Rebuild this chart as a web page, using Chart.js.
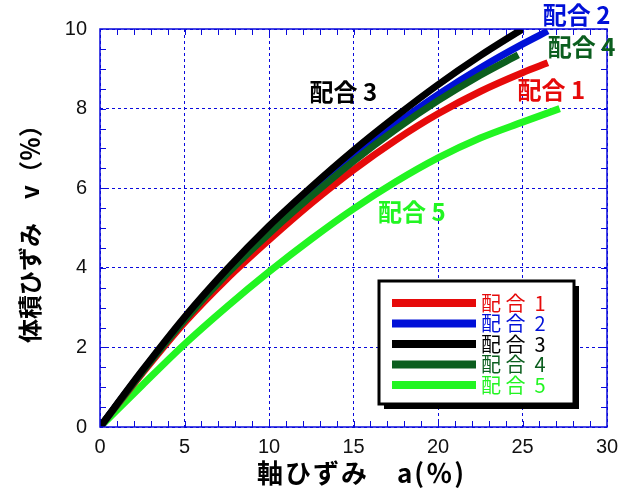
<!DOCTYPE html>
<html>
<head>
<meta charset="utf-8">
<script src="https://cdn.jsdelivr.net/npm/chart.js@4.4.1/dist/chart.umd.min.js"></script>
<style>
  html, body { margin: 0; padding: 0; background: #fff; }
  canvas { display: block; }
</style>
</head>
<body>
<canvas id="strain-chart" width="635" height="491"></canvas>
<script>
// axial strain a(%) vs volumetric strain v(%), five mixes
const legendLabels = ['配 合  1', '配 合  2', '配 合  3', '配 合  4', '配 合  5'];
const curveLabels = ['配合 1', '配合 2', '配合 3', '配合 4', '配合 5'];
const mixColors = ['#e60a0a', '#0010d8', '#000000', '#0b5e1e', '#22f522'];
const xTitle = '軸ひずみ　a(％)';
const yTitle = '体積ひずみ　v（％）';

const axial1 = [0, 2.5, 5, 7.5, 10, 12.5, 15, 17.5, 20, 22.5, 25, 26.5];
const vol1 = [0, 1.35, 2.62, 3.72, 4.7, 5.62, 6.46, 7.21, 7.87, 8.43, 8.9, 9.15];

const axial2 = [0, 2.5, 5, 7.5, 10, 12.5, 15, 17.5, 20, 22.5, 25, 26.5];
const vol2 = [0, 1.4, 2.72, 3.9, 4.95, 5.9, 6.78, 7.6, 8.35, 9.02, 9.62, 9.95];

const axial3 = [0, 2.5, 5, 7.5, 10, 12.5, 15, 17.5, 20, 22.5, 25];
const vol3 = [0, 1.42, 2.76, 3.96, 5.05, 6.03, 6.95, 7.8, 8.6, 9.33, 10.0];

const axial4 = [0, 2.5, 5, 7.5, 10, 12.5, 15, 17.5, 20, 22.5, 24.75];
const vol4 = [0, 1.38, 2.68, 3.84, 4.86, 5.8, 6.68, 7.48, 8.2, 8.84, 9.35];

const axial5 = [0, 2.5, 5, 7.5, 10, 12.5, 15, 17.5, 20, 22.5, 25, 27.2];
const vol5 = [0, 1.05, 2.08, 3.02, 3.9, 4.72, 5.48, 6.16, 6.76, 7.26, 7.66, 8.0];

const xTickValues = [0, 5, 10, 15, 20, 25, 30];
const yTickValues = [0, 2, 4, 6, 8, 10];

const series = [[axial1, vol1], [axial2, vol2], [axial3, vol3], [axial4, vol4], [axial5, vol5]];
// black on top, bright green underneath
const drawOrder = [3, 2, 0, 1, 4];
// where the bold curve names sit, in data units (left edge, middle)
const labelSpots = [[24.7, 8.47], [26.2, 10.35], [12.4, 8.42], [26.5, 9.55], [16.45, 5.4]];

const toPoints = (xs, ys) => xs.map((x, i) => ({ x, y: ys[i] }));

const blue = '#0a0adc';
const cjk = '"Noto Sans CJK JP", "Noto Sans", sans-serif';

const frame = {
  id: 'frame',
  afterDatasetsDraw(chart) {
    const { ctx, chartArea: a, scales: { x, y } } = chart;
    ctx.save();
    ctx.strokeStyle = blue;
    ctx.lineWidth = 1.5;
    ctx.strokeRect(a.left, a.top, a.right - a.left, a.bottom - a.top);
    ctx.lineWidth = 1;
    ctx.beginPath();
    for (let v = 1; v < 30; v++) {
      const px = Math.round(x.getPixelForValue(v)) + 0.5;
      ctx.moveTo(px, a.bottom); ctx.lineTo(px, a.bottom - 6);
      ctx.moveTo(px, a.top); ctx.lineTo(px, a.top + 6);
    }
    for (let v = 0.5; v < 10; v += 0.5) {
      const py = Math.round(y.getPixelForValue(v)) + 0.5;
      ctx.moveTo(a.left, py); ctx.lineTo(a.left + 6, py);
      ctx.moveTo(a.right, py); ctx.lineTo(a.right - 6, py);
    }
    ctx.stroke();
    ctx.restore();
  },
  afterDraw(chart) {
    const { ctx, scales: { x, y } } = chart;
    ctx.save();
    ctx.textBaseline = 'middle';
    ctx.textAlign = 'left';

    // x axis title, slightly letter-spaced like the original
    ctx.font = 'bold 26px ' + cjk;
    ctx.fillStyle = '#000';
    ctx.letterSpacing = '2px';
    ctx.fillText(xTitle, 257, 473);
    ctx.letterSpacing = '0px';

    // curve names
    ctx.font = 'bold 24px ' + cjk;
    curveLabels.forEach((t, i) => {
      ctx.fillStyle = mixColors[i];
      ctx.fillText(t, x.getPixelForValue(labelSpots[i][0]), y.getPixelForValue(labelSpots[i][1]));
    });

    // legend box with drop shadow
    const bx = 379, by = 281, bw = 195, bh = 123;
    ctx.fillStyle = '#000';
    ctx.fillRect(bx + 5, by + 5, bw, bh);
    ctx.fillStyle = '#fff';
    ctx.fillRect(bx, by, bw, bh);
    ctx.lineWidth = 3;
    ctx.strokeStyle = '#000';
    ctx.strokeRect(bx, by, bw, bh);

    ctx.font = '20px ' + cjk;
    chart.data.datasets.forEach((ds, i) => {
      const ry = by + 22 + i * 20.5;
      ctx.fillStyle = ds.borderColor;
      ctx.fillRect(bx + 13, ry - 4, 84, 8);
      ctx.fillText(legendLabels[i], bx + 102, ry);
    });
    ctx.restore();
  }
};

new Chart(document.getElementById('strain-chart'), {
  type: 'line',
  data: {
    datasets: series.map(([xs, ys], i) => ({
      label: legendLabels[i],
      data: toPoints(xs, ys),
      borderColor: mixColors[i],
      backgroundColor: mixColors[i],
      borderWidth: 7,
      borderCapStyle: 'butt',
      pointRadius: 0,
      cubicInterpolationMode: 'monotone',
      fill: false,
      order: drawOrder[i]
    }))
  },
  options: {
    responsive: false,
    animation: false,
    layout: { padding: { top: 29, right: 28 } },
    plugins: { legend: { display: false }, tooltip: { enabled: false } },
    scales: {
      x: {
        type: 'linear',
        min: 0, max: 30,
        afterBuildTicks: s => { s.ticks = xTickValues.map(v => ({ value: v })); },
        afterFit: s => { s.height = 64; },
        grid: { color: blue, lineWidth: 1, drawTicks: false },
        border: { display: false, dash: [3, 3] },
        ticks: { padding: 8, color: '#111', font: { family: '"Liberation Sans", Arial, sans-serif', size: 20 } },
        title: { display: false }
      },
      y: {
        min: 0, max: 10,
        afterBuildTicks: s => { s.ticks = yTickValues.map(v => ({ value: v })); },
        afterFit: s => { s.width = 100; },
        grid: { color: blue, lineWidth: 1, drawTicks: false },
        border: { display: false, dash: [3, 3] },
        ticks: { padding: 13, color: '#111', font: { family: '"Liberation Sans", Arial, sans-serif', size: 20 } },
        title: {
          display: true,
          text: yTitle,
          color: '#000',
          padding: { top: 15, bottom: 0 },
          font: { family: cjk, size: 24, weight: 'bold' }
        }
      }
    }
  },
  plugins: [frame]
});
</script>
</body>
</html>
